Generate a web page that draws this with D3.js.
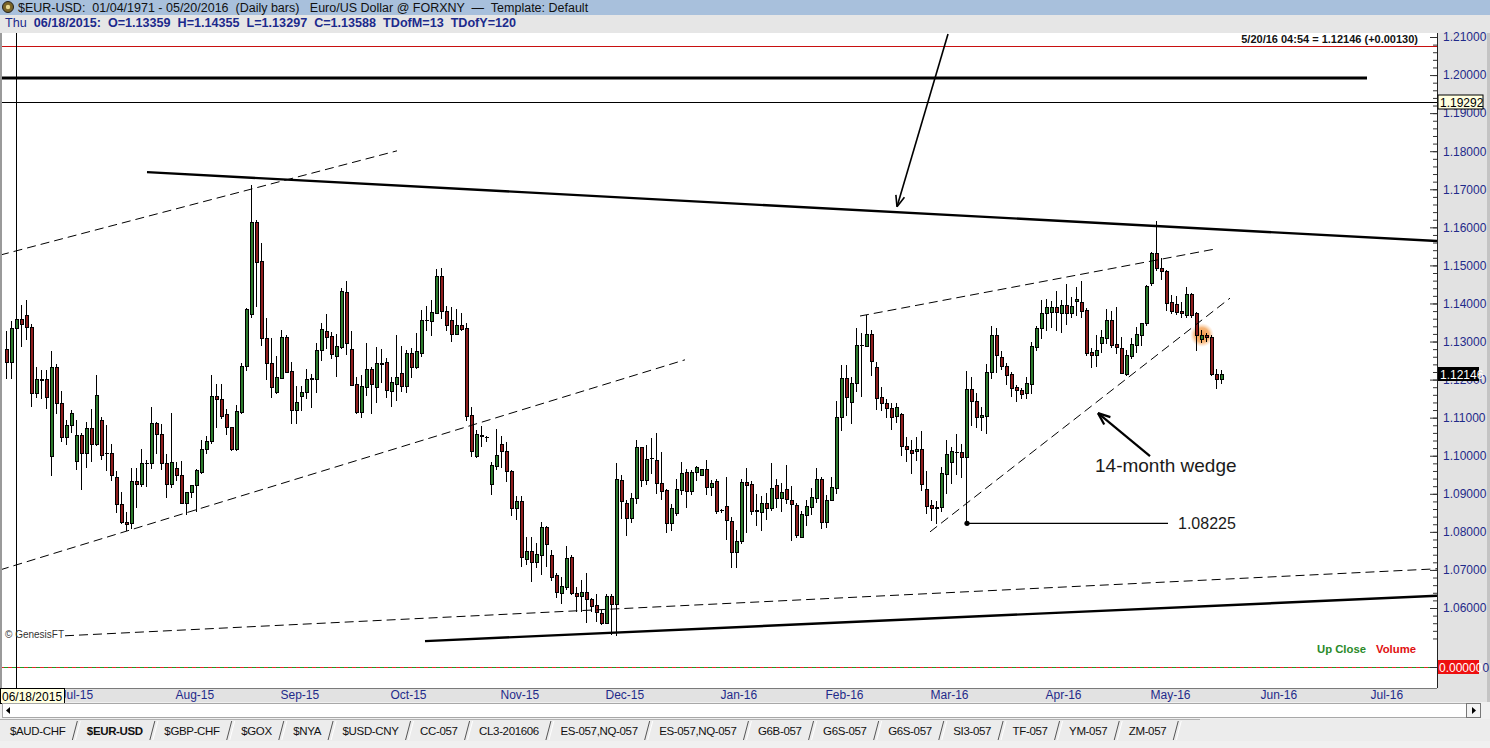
<!DOCTYPE html>
<html><head><meta charset="utf-8">
<script src="https://cdn.jsdelivr.net/npm/d3@7"></script>
<style>
html,body{margin:0;padding:0;background:#f0f0f0;overflow:hidden;}
svg{display:block;font-family:"Liberation Sans",Arial,sans-serif;}
text{white-space:pre;}
</style></head><body>
<svg id="c" width="1490" height="748"></svg>
<script>
// ---------- DATA ----------
const startDate = "2015-06-16";
const axisEndDate = "2016-08-01";
const opens = [1.1280,1.1245,1.13359,1.1358,1.1370,1.1338,1.1164,1.1200,1.1202,1.1000,1.1234,1.1139,1.1050,1.1081,1.0987,1.1054,1.1008,1.1074,1.1031,1.1094,1.1006,1.1006,1.0943,1.0872,1.0827,1.0822,1.0933,1.0926,1.0980,1.0980,1.1085,1.1056,1.0982,1.0927,1.0969,1.0949,1.0877,1.0904,1.0923,1.0958,1.1017,1.1039,1.1157,1.1148,1.1110,1.1075,1.1019,1.1116,1.1236,1.1373,1.1615,1.1512,1.1308,1.1243,1.1168,1.1205,1.1313,1.1222,1.1120,1.1158,1.1167,1.1202,1.1202,1.1278,1.1328,1.1315,1.1263,1.1286,1.1429,1.1280,1.1188,1.1116,1.1181,1.1228,1.1181,1.1243,1.1246,1.1171,1.1188,1.1218,1.1184,1.1269,1.1234,1.1271,1.1357,1.1355,1.1376,1.1472,1.1381,1.1357,1.1321,1.1343,1.1335,1.1107,1.0998,1.1051,1.1048,1.0926,1.0974,1.1031,1.1013,1.0960,1.0862,1.0881,1.0728,1.0750,1.0722,1.0738,1.0813,1.0739,1.0687,1.0639,1.0656,1.0733,1.0640,1.0631,1.0641,1.0623,1.0608,1.0588,1.0561,1.0631,1.0611,1.0936,1.0875,1.0836,1.0888,1.1022,1.0936,1.0994,1.0989,1.0928,1.0910,1.0822,1.0850,1.0910,1.0956,1.0908,1.0958,1.0949,1.0964,1.0917,1.0934,1.0857,1.0868,1.0828,1.0746,1.0777,1.0932,1.0926,1.0857,1.0853,1.0875,1.0862,1.0923,1.0888,1.0912,1.0885,1.0870,1.0787,1.0844,1.0866,1.0890,1.0938,1.0827,1.0885,1.0914,1.1101,1.1203,1.1140,1.1190,1.1291,1.1288,1.1320,1.1232,1.1153,1.1139,1.1126,1.1105,1.1110,1.1026,1.1015,1.1012,1.1017,1.0912,1.0870,1.0866,1.0866,1.0952,1.0984,1.1011,1.1009,1.0996,1.1174,1.1145,1.1101,1.1104,1.1221,1.1317,1.1260,1.1236,1.1214,1.1181,1.1172,1.1164,1.1188,1.1286,1.1335,1.1376,1.1378,1.1390,1.1376,1.1396,1.1374,1.1406,1.1405,1.1383,1.1273,1.1264,1.1297,1.1308,1.1357,1.1293,1.1284,1.1215,1.1262,1.1291,1.1317,1.1348,1.1453,1.1532,1.1492,1.1484,1.1404,1.1399,1.1381,1.1370,1.1425,1.1374,1.1306,1.1317,1.1313,1.1216,1.1202];
const highs = [1.1328,1.1355,1.14355,1.1396,1.1409,1.1346,1.1232,1.1225,1.1225,1.1276,1.1241,1.1170,1.1094,1.1120,1.1094,1.1060,1.1089,1.1122,1.1212,1.1101,1.1081,1.1032,1.0961,1.0905,1.0853,1.0967,1.0967,1.1017,1.0989,1.1129,1.1089,1.1083,1.1005,1.1111,1.0984,1.0986,1.0905,1.0922,1.0966,1.1041,1.1052,1.1212,1.1188,1.1188,1.1122,1.1076,1.1133,1.1243,1.1387,1.1711,1.1619,1.1558,1.1361,1.1308,1.1261,1.1331,1.1317,1.1247,1.1183,1.1183,1.1227,1.1216,1.1295,1.1348,1.1372,1.1326,1.1320,1.1440,1.1459,1.1328,1.1208,1.1212,1.1295,1.1232,1.1286,1.1280,1.1256,1.1207,1.1317,1.1288,1.1278,1.1282,1.1323,1.1384,1.1393,1.1409,1.1490,1.1492,1.1393,1.1390,1.1385,1.1376,1.1348,1.1129,1.1068,1.1078,1.1052,1.0984,1.1069,1.1052,1.1037,1.0963,1.0895,1.0894,1.0787,1.0787,1.0772,1.0827,1.0815,1.0752,1.0691,1.0682,1.0763,1.0739,1.0654,1.0673,1.0691,1.0625,1.0637,1.0596,1.0638,1.0637,1.0982,1.0949,1.0884,1.0901,1.1041,1.1024,1.1028,1.1046,1.1059,1.1011,1.0912,1.0873,1.0938,1.0984,1.0964,1.0963,1.0974,1.0964,1.0990,1.0936,1.0938,1.0861,1.0945,1.0840,1.0805,1.0938,1.0967,1.0934,1.0899,1.0894,1.0903,1.0982,1.0940,1.0929,1.0976,1.0920,1.0875,1.0855,1.0884,1.0914,1.0967,1.0945,1.0897,1.0945,1.1145,1.1238,1.1238,1.1206,1.1335,1.1322,1.1370,1.1330,1.1247,1.1180,1.1148,1.1138,1.1138,1.1111,1.1050,1.1041,1.1050,1.1066,1.0961,1.0884,1.0882,1.0971,1.1041,1.1024,1.1057,1.1031,1.1222,1.1206,1.1164,1.1129,1.1241,1.1340,1.1335,1.1275,1.1244,1.1221,1.1186,1.1177,1.1208,1.1298,1.1341,1.1409,1.1411,1.1407,1.1434,1.1409,1.1451,1.1418,1.1444,1.1460,1.1387,1.1282,1.1317,1.1330,1.1385,1.1381,1.1390,1.1313,1.1278,1.1308,1.1337,1.1348,1.1449,1.1536,1.1616,1.1519,1.1488,1.1422,1.1419,1.1405,1.1444,1.1428,1.1378,1.1330,1.1322,1.1317,1.1228,1.1225];
const lows = [1.1203,1.1203,1.13297,1.1289,1.1307,1.1131,1.1153,1.1151,1.1126,1.0950,1.1111,1.1039,1.1030,1.1063,1.0965,1.0913,1.0971,1.0987,1.1027,1.0991,1.0962,1.0936,1.0853,1.0822,1.0806,1.0809,1.0866,1.0920,1.0920,1.0967,1.1006,1.0964,1.0892,1.0919,1.0936,1.0875,1.0847,1.0892,1.0856,1.0954,1.1006,1.1034,1.1076,1.1098,1.1056,1.1016,1.1015,1.1111,1.1225,1.1365,1.1393,1.1291,1.1201,1.1153,1.1164,1.1205,1.1221,1.1085,1.1087,1.1120,1.1151,1.1129,1.1168,1.1251,1.1282,1.1256,1.1209,1.1282,1.1267,1.1187,1.1111,1.1102,1.1159,1.1113,1.1142,1.1193,1.1155,1.1130,1.1146,1.1171,1.1168,1.1208,1.1231,1.1263,1.1330,1.1317,1.1374,1.1361,1.1330,1.1302,1.1320,1.1330,1.1095,1.0999,1.0996,1.1025,1.1040,1.0899,1.0964,1.0971,1.0934,1.0844,1.0833,1.0711,1.0716,1.0672,1.0708,1.0689,1.0711,1.0674,1.0628,1.0614,1.0651,1.0636,1.0592,1.0591,1.0564,1.0593,1.0566,1.0559,1.0560,1.0533,1.0529,1.0836,1.0792,1.0827,1.0877,1.0920,1.0927,1.0954,1.0903,1.0886,1.0800,1.0805,1.0844,1.0900,1.0866,1.0900,1.0936,1.0949,1.0900,1.0897,1.0850,1.0851,1.0780,1.0708,1.0708,1.0770,1.0800,1.0848,1.0818,1.0805,1.0833,1.0857,1.0866,1.0855,1.0875,1.0778,1.0787,1.0787,1.0818,1.0848,1.0879,1.0809,1.0814,1.0883,1.0901,1.1067,1.1107,1.1085,1.1171,1.1158,1.1287,1.1212,1.1124,1.1120,1.1103,1.1069,1.1089,1.1002,1.0987,1.0955,1.0988,1.0909,1.0849,1.0831,1.0824,1.0855,1.0901,1.0929,1.0953,1.0943,1.08225,1.1081,1.1076,1.1067,1.1059,1.1203,1.1221,1.1228,1.1188,1.1157,1.1145,1.1151,1.1151,1.1164,1.1278,1.1308,1.1330,1.1337,1.1330,1.1326,1.1346,1.1365,1.1370,1.1365,1.1265,1.1234,1.1236,1.1273,1.1295,1.1286,1.1271,1.1218,1.1212,1.1256,1.1273,1.1291,1.1343,1.1449,1.1488,1.1463,1.1383,1.1375,1.1372,1.1365,1.1365,1.1365,1.1279,1.1300,1.1302,1.1212,1.1177,1.1192];
const closes = [1.1245,1.1335,1.13588,1.1346,1.1337,1.1166,1.1202,1.1202,1.1155,1.1232,1.1138,1.1050,1.1081,1.1111,1.1054,1.1008,1.1072,1.1032,1.1159,1.1002,1.1007,1.0949,1.0872,1.0827,1.0820,1.0933,1.0927,1.0980,1.0981,1.1085,1.1056,1.0980,1.0927,1.0984,1.0949,1.0877,1.0905,1.0923,1.0962,1.1017,1.1039,1.1157,1.1148,1.1105,1.1075,1.1018,1.1117,1.1236,1.1385,1.1615,1.1510,1.1308,1.1243,1.1181,1.1206,1.1313,1.1221,1.1120,1.1142,1.1167,1.1201,1.1205,1.1278,1.1333,1.1313,1.1266,1.1288,1.1433,1.1297,1.1187,1.1114,1.1183,1.1228,1.1188,1.1244,1.1242,1.1172,1.1194,1.1206,1.1184,1.1271,1.1234,1.1275,1.1357,1.1356,1.1377,1.1472,1.1381,1.1343,1.1321,1.1343,1.1333,1.1104,1.1013,1.1057,1.1055,1.1049,1.0976,1.1002,1.1013,1.0960,1.0862,1.0881,1.0735,1.0750,1.0722,1.0742,1.0813,1.0768,1.0682,1.0641,1.0658,1.0731,1.0640,1.0632,1.0641,1.0623,1.0605,1.0590,1.0561,1.0631,1.0610,1.0938,1.0882,1.0836,1.0888,1.1022,1.0936,1.0991,1.0993,1.0928,1.0908,1.0822,1.0862,1.0912,1.0954,1.0908,1.0958,1.0971,1.0964,1.0917,1.0929,1.0856,1.0858,1.0831,1.0746,1.0777,1.0932,1.0923,1.0855,1.0856,1.0875,1.0862,1.0914,1.0888,1.0906,1.0886,1.0873,1.0792,1.0848,1.0868,1.0891,1.0938,1.0827,1.0885,1.0917,1.1101,1.1203,1.1153,1.1190,1.1291,1.1290,1.1320,1.1250,1.1151,1.1139,1.1126,1.1103,1.1127,1.1026,1.1017,1.1008,1.1017,1.0927,1.0868,1.0864,1.0862,1.0955,1.1005,1.1012,1.1010,1.0996,1.1174,1.1145,1.1101,1.1107,1.1221,1.1317,1.1265,1.1236,1.1212,1.1177,1.1172,1.1162,1.1192,1.1288,1.1335,1.1376,1.1390,1.1390,1.1378,1.1396,1.1374,1.1393,1.1411,1.1381,1.1271,1.1264,1.1279,1.1311,1.1357,1.1291,1.1286,1.1218,1.1265,1.1293,1.1319,1.1348,1.1446,1.1532,1.1492,1.1484,1.1402,1.1381,1.1378,1.1374,1.1425,1.1370,1.1317,1.1317,1.1311,1.1216,1.1202,1.12146];

const priceTicks = [1.21,1.20,1.19,1.18,1.17,1.16,1.15,1.14,1.13,1.12,1.11,1.10,1.09,1.08,1.07,1.06];
const monthLabels = ["Jul-15","Aug-15","Sep-15","Oct-15","Nov-15","Dec-15","Jan-16","Feb-16","Mar-16","Apr-16","May-16","Jun-16","Jul-16"];
const tabNames = ["$AUD-CHF","$EUR-USD","$GBP-CHF","$GOX","$NYA","$USD-CNY","CC-057","CL3-201606","ES-057,NQ-057","ES-057,NQ-057","G6B-057","G6S-057","G6S-057","SI3-057","TF-057","YM-057","ZM-057"];
const activeTabIndex = 1;

// annotation levels and lines: [bar index, price]
const redLevel = 1.2076;
const thickLevel = 1.1992;
const markerLevel = 1.19292;
const lastPrice = 1.12146;
const cursorBar = 2;
const thickLevelEnd = 272;
const resistanceLine = [[28,1.1745],[286,1.1564]];
const upperChannel = [[-1.4,1.1527],[78,1.1801]];
const lowerChannel = [[-1.4,1.0700],[135.6,1.1252]];
const longDashed = [[11.6,1.0527],[286,1.0703]];
const supportLine = [[83.6,1.0513],[286,1.0632]];
const wedgeTop = [[170.6,1.1367],[241.6,1.1543]];
const wedgeBottom = [[184.6,1.0800],[244.6,1.1414]];
const lowMarker = [[192,1.08225],[232.2,1.08225]];
const topArrow = [[188.2,1.2108],[178,1.1654]];
const wedgeArrow = [[228.6,1.0999],[218.2,1.1112]];
const wedgeLabel = {bar:217.6, price:1.0976, text:"14-month wedge"};
const lowLabel = {bar:234.2, price:1.08225, text:"1.08225"};
const highlight = {bar:239, price:1.1317};

// ---------- LAYOUT ----------
const svg = d3.select("#c");
const W = 1490, H = 748;
const P = {left:0, right:1437, top:33, bottom:688};
const x = d3.scaleLinear().domain([0,286]).range([7,1437]);
const y = d3.scaleLinear().domain([1.06,1.21]).range([608,37]);
const yVol = d3.scaleLinear().domain([0,1]).range([667,640]);

const parse = d3.timeParse("%Y-%m-%d");
const days = d3.timeDay.range(parse(startDate), parse(axisEndDate)).filter(d=>d.getDay()!==0 && d.getDay()!==6);
const fmtM = d3.timeFormat("%b-%y");
const monthStart = monthLabels.map(m=>days.findIndex(d=>fmtM(d)===m));

svg.append("rect").attr("width",W).attr("height",H).attr("fill","#f0f0f0");
// header rows
svg.append("rect").attr("x",0).attr("y",0).attr("width",W).attr("height",15).attr("fill","#a8c0dc");
svg.append("rect").attr("x",0).attr("y",15).attr("width",W).attr("height",18).attr("fill","#e6e6e6");
svg.append("circle").attr("cx",8).attr("cy",7).attr("r",5.5).attr("fill","#7a6428").attr("stroke","#222");
svg.append("circle").attr("cx",8).attr("cy",7).attr("r",2.2).attr("fill","#e8d890");
svg.append("text").attr("x",18).attr("y",12).attr("font-size",12.5).attr("fill","#111")
  .text("$EUR-USD:  01/04/1971 - 05/20/2016  (Daily bars)   Euro/US Dollar @ FORXNY  \u2014  Template: Default");
const info = svg.append("text").attr("x",5).attr("y",27).attr("font-size",12.6).attr("fill","#1c2a8c");
info.append("tspan").text("Thu  ");
info.append("tspan").attr("font-weight","bold").text("06/18/2015:  O=1.13359  H=1.14355  L=1.13297  C=1.13588  TDofM=13  TDofY=120");

// plot area
svg.append("rect").attr("x",P.left).attr("y",P.top).attr("width",P.right-P.left).attr("height",P.bottom-P.top).attr("fill","#fff");
svg.append("rect").attr("x",0).attr("y",P.top).attr("width",2).attr("height",P.bottom-P.top).attr("fill","#9a9a9a");
svg.append("rect").attr("x",P.right).attr("y",P.top).attr("width",W-P.right).attr("height",702-P.top).attr("fill","#e2e2e2");
svg.append("rect").attr("x",1487).attr("y",P.top).attr("width",3).attr("height",702-P.top).attr("fill","#c4c4c4");
svg.append("rect").attr("x",0).attr("y",P.bottom).attr("width",P.right).attr("height",14).attr("fill","#e2e2e2");

const defs = svg.append("defs");
defs.append("clipPath").attr("id","pc").append("rect").attr("x",2).attr("y",P.top).attr("width",P.right-2).attr("height",P.bottom-P.top);
const rg = defs.append("radialGradient").attr("id","glow");
rg.append("stop").attr("offset","0%").attr("stop-color","#f29a48").attr("stop-opacity",1);
rg.append("stop").attr("offset","60%").attr("stop-color","#f5ac68").attr("stop-opacity",0.9);
rg.append("stop").attr("offset","100%").attr("stop-color","#fbd0a8").attr("stop-opacity",0);

const pg = svg.append("g").attr("clip-path","url(#pc)");

// horizontal levels
pg.append("line").attr("x1",0).attr("x2",P.right).attr("y1",Math.round(y(redLevel))+0.5).attr("y2",Math.round(y(redLevel))+0.5).attr("stroke","#c81010").attr("stroke-width",1);
pg.append("line").attr("x1",0).attr("x2",x(thickLevelEnd)).attr("y1",y(thickLevel)).attr("y2",y(thickLevel)).attr("stroke","#000").attr("stroke-width",3);
pg.append("line").attr("x1",0).attr("x2",P.right).attr("y1",Math.round(y(markerLevel))+0.5).attr("y2",Math.round(y(markerLevel))+0.5).attr("stroke","#000").attr("stroke-width",1);

// volume zero line (red/green dashed)
const vz = Math.round(yVol(0))+0.5;
pg.append("line").attr("x1",0).attr("x2",P.right).attr("y1",vz).attr("y2",vz).attr("stroke","#e02828").attr("stroke-dasharray","4,4").attr("shape-rendering","crispEdges");
pg.append("line").attr("x1",4).attr("x2",P.right).attr("y1",vz).attr("y2",vz).attr("stroke","#1f9a1f").attr("stroke-dasharray","4,4").attr("shape-rendering","crispEdges");

// highlight glow
pg.append("circle").attr("cx",x(highlight.bar)).attr("cy",y(highlight.price)).attr("r",12).attr("fill","url(#glow)");

// cursor line
pg.append("rect").attr("x",Math.round(x(cursorBar))-1).attr("y",30).attr("width",1).attr("height",P.bottom-30).attr("fill","#000");

// candles
const bars = opens.map((o,i)=>({i,o,h:highs[i],l:lows[i],c:closes[i]}));
const cx = d=>Math.round(x(d.i));
const bt = d=>Math.round(y(Math.max(d.o,d.c)));
const bb = d=>Math.round(y(Math.min(d.o,d.c)));
const cg = pg.append("g").attr("shape-rendering","crispEdges");
cg.selectAll(".wick").data(bars).join("rect").attr("class","wick")
  .attr("x",d=>cx(d)-1).attr("width",1)
  .attr("y",d=>Math.round(y(d.h))).attr("height",d=>Math.max(1,Math.round(y(d.l))-Math.round(y(d.h))+1))
  .attr("fill","#000");
cg.selectAll(".body").data(bars).join("rect").attr("class","body")
  .attr("x",d=>cx(d)-2).attr("width",4)
  .attr("y",bt).attr("height",d=>Math.max(1,bb(d)-bt(d)+1)).attr("fill","#000");
cg.selectAll(".fillb").data(bars.filter(d=>bb(d)-bt(d)>=2)).join("rect").attr("class","fillb")
  .attr("x",d=>cx(d)-1).attr("width",2)
  .attr("y",d=>bt(d)+1).attr("height",d=>bb(d)-bt(d)-1)
  .attr("fill",d=>d.c>=d.o?"#2b7a2b":"#8e1c1c");

// trend lines
const ln = d3.line().x(d=>x(d[0])).y(d=>y(d[1]));
const drawLine = (pts,w,dash)=>pg.append("path").attr("d",ln(pts)).attr("fill","none").attr("stroke","#000").attr("stroke-width",w).attr("stroke-dasharray",dash||null);
drawLine(resistanceLine,2.4);
drawLine(supportLine,2.4);
drawLine(upperChannel,1,"9,5");
drawLine(lowerChannel,1,"9,5");
drawLine(longDashed,1,"9,5");
drawLine(wedgeTop,1,"9,5");
drawLine(wedgeBottom,1,"9,5");
drawLine(lowMarker,1.2);
pg.append("circle").attr("cx",x(lowMarker[0][0])).attr("cy",y(lowMarker[0][1])).attr("r",2.6).attr("fill","#000");

function arrow(pts,w,len){
  drawLine(pts,w);
  const x1=x(pts[0][0]),y1=y(pts[0][1]),x2=x(pts[1][0]),y2=y(pts[1][1]);
  const a=Math.atan2(y2-y1,x2-x1);
  [0.38,-0.38].forEach(s=>{
    pg.append("line").attr("x1",x2).attr("y1",y2)
      .attr("x2",x2-len*Math.cos(a+s)).attr("y2",y2-len*Math.sin(a+s))
      .attr("stroke","#000").attr("stroke-width",w);
  });
}
arrow(topArrow,1.6,12);
arrow(wedgeArrow,2.2,13);

pg.append("text").attr("x",x(wedgeLabel.bar)).attr("y",y(wedgeLabel.price)).attr("dy","0.36em")
  .attr("font-size",19).attr("fill","#1a1a1a").text(wedgeLabel.text);
pg.append("text").attr("x",x(lowLabel.bar)).attr("y",y(lowLabel.price)).attr("dy","0.36em")
  .attr("font-size",16).attr("fill","#1a1a1a").text(lowLabel.text);

// overlay texts
svg.append("text").attr("x",1418).attr("y",43).attr("text-anchor","end").attr("font-size",11).attr("font-weight","bold").attr("fill","#111")
  .text("5/20/16 04:54 = 1.12146 (+0.00130)");
svg.append("text").attr("x",5).attr("y",638).attr("font-size",10).attr("fill","#333").text("\u00a9 GenesisFT");
svg.append("text").attr("x",1317).attr("y",653).attr("font-size",11.3).attr("font-weight","bold").attr("fill","#2a8a2a").text("Up Close");
svg.append("text").attr("x",1376).attr("y",653).attr("font-size",11.3).attr("font-weight","bold").attr("fill","#e01010").text("Volume");

// right price axis
const navy = "#1f2a8a";
const minorTicks = d3.range(1052,1211,2).map(v=>v/1000);
svg.append("g").attr("transform",`translate(${P.right},0)`)
  .call(d3.axisRight(y).tickValues(minorTicks).tickSize(-4).tickFormat(""))
  .call(g=>g.select(".domain").remove()).selectAll("line").attr("stroke","#333");
const ya = svg.append("g").attr("transform",`translate(${P.right},0)`)
  .call(d3.axisRight(y).tickValues(priceTicks).tickSize(-7).tickPadding(6).tickFormat(d3.format(".5f")));
ya.select(".domain").remove();
ya.selectAll("line").attr("stroke","#333");
ya.selectAll("text").attr("font-size",12).attr("font-family","Liberation Sans, Arial").attr("fill",navy);
const va = svg.append("g").attr("transform",`translate(${P.right},0)`)
  .call(d3.axisRight(yVol).tickValues([0]).tickSize(-7).tickFormat(""));
va.select(".domain").remove(); va.selectAll("line").attr("stroke","#333");
svg.append("line").attr("x1",P.right+0.5).attr("x2",P.right+0.5).attr("y1",P.top).attr("y2",P.bottom).attr("stroke","#222");

// value boxes (drawn over the axis labels as in the platform)
function box(v,bg,fg,w,txt,border){
  const yc=Math.round(y(v));
  svg.append("rect").attr("x",P.right+1).attr("y",yc-7).attr("width",w).attr("height",14).attr("fill",bg).attr("stroke",border||"none");
  svg.append("text").attr("x",P.right+3).attr("y",yc+5).attr("font-size",12).attr("fill",fg).text(txt);
}
box(markerLevel,"#ffffe1","#000",45,d3.format(".5f")(markerLevel),"#000");
box(lastPrice,"#000","#fff",41,d3.format(".5f")(lastPrice));
{
  const yc=Math.round(yVol(0));
  svg.append("rect").attr("x",P.right+1).attr("y",yc-7).attr("width",41).attr("height",14).attr("fill","#ee1010");
  const t=svg.append("text").attr("x",P.right+2).attr("y",yc+5).attr("font-size",12);
  const s=d3.format(".6f")(0);
  t.append("tspan").attr("fill","#fff").text(s.slice(0,-1));
  t.append("tspan").attr("fill",navy).text(s.slice(-1));
}

// bottom x axis (months)
svg.append("line").attr("x1",0).attr("x2",P.right).attr("y1",P.bottom+0.5).attr("y2",P.bottom+0.5).attr("stroke","#7a7a7a");
const xa = svg.append("g").attr("transform",`translate(0,${P.bottom})`)
  .call(d3.axisBottom(x).tickValues(monthStart).tickSize(0).tickPadding(2).tickFormat((d,i)=>monthLabels[i]));
xa.select(".domain").remove();
xa.selectAll("text").attr("text-anchor","start").attr("x",-2).attr("font-size",12).attr("font-family","Liberation Sans, Arial").attr("fill",navy);

// cursor date box
svg.append("rect").attr("x",0.5).attr("y",P.bottom+0.5).attr("width",64).attr("height",15).attr("fill","#ffffe1").attr("stroke","#000");
svg.append("text").attr("x",2).attr("y",P.bottom+13).attr("font-size",12).attr("fill","#000").text("06/18/2015");

// scrollbar
svg.append("rect").attr("x",2.5).attr("y",703.5).attr("width",1478).attr("height",14).attr("fill","#fff").attr("stroke","#a8a8a8");
svg.append("path").attr("d","M6,710.5 L10,707 L10,714 Z").attr("fill","#000");
svg.append("rect").attr("x",1466.5).attr("y",703.5).attr("width",14).attr("height",14).attr("fill","#f4f4f4").attr("stroke","#777");
svg.append("path").attr("d","M1476,710.5 L1472,707 L1472,714 Z").attr("fill","#000");

// tabs
svg.append("rect").attr("x",0).attr("y",719).attr("width",W).attr("height",22).attr("fill","#ececec");
svg.append("line").attr("x1",0).attr("x2",1200).attr("y1",719.5).attr("y2",719.5).attr("stroke","#b0b0b0");
let tx = 10;
const tg = svg.append("g");
tabNames.forEach((name,i)=>{
  const t = tg.append("text").attr("x",tx).attr("y",735).attr("font-size",11.5).attr("letter-spacing","-0.35")
    .attr("font-weight",i===activeTabIndex?"bold":"normal").attr("fill","#111").text(name);
  const w = t.node().getComputedTextLength();
  const sx = tx + w + 9;
  tg.append("line").attr("x1",sx-2).attr("y1",740).attr("x2",sx+3).attr("y2",721).attr("stroke","#555").attr("stroke-width",1);
  tg.append("line").attr("x1",sx+1).attr("y1",740).attr("x2",sx+6).attr("y2",721).attr("stroke","#fff").attr("stroke-width",1);
  tx = sx + 12.5;
});
svg.append("rect").attr("x",0).attr("y",741).attr("width",W).attr("height",7).attr("fill","#f0f0f0");
</script>
</body></html>
